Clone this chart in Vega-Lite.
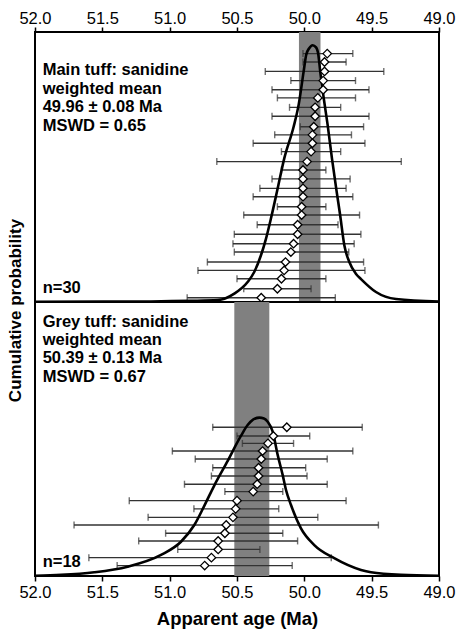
{
  "$schema": "https://vega.github.io/schema/vega-lite/v6.json",
  "background": "white",
  "padding": {"left": 5, "top": 9, "right": 0, "bottom": 0},
  "spacing": 0,
  "bounds": "flush",
  "config": {
    "font": "Liberation Sans",
    "view": {"stroke": "black", "strokeWidth": 2}
  },
  "datasets": {
    "mainPts": [
      {"age": 49.83, "lo": 50.01, "hi": 49.64, "p": 0.920},
      {"age": 49.85, "lo": 50.01, "hi": 49.69, "p": 0.889},
      {"age": 49.85, "lo": 50.29, "hi": 49.41, "p": 0.854},
      {"age": 49.86, "lo": 50.10, "hi": 49.62, "p": 0.820},
      {"age": 49.86, "lo": 50.24, "hi": 49.52, "p": 0.786},
      {"age": 49.90, "lo": 50.20, "hi": 49.62, "p": 0.756},
      {"age": 49.92, "lo": 50.11, "hi": 49.73, "p": 0.721},
      {"age": 49.92, "lo": 50.24, "hi": 49.52, "p": 0.688},
      {"age": 49.93, "lo": 50.03, "hi": 49.56, "p": 0.649},
      {"age": 49.94, "lo": 50.22, "hi": 49.65, "p": 0.619},
      {"age": 49.94, "lo": 50.38, "hi": 49.55, "p": 0.588},
      {"age": 49.95, "lo": 50.17, "hi": 49.73, "p": 0.557},
      {"age": 49.98, "lo": 50.65, "hi": 49.28, "p": 0.520},
      {"age": 50.01, "lo": 50.17, "hi": 49.84, "p": 0.489},
      {"age": 50.01, "lo": 50.24, "hi": 49.66, "p": 0.456},
      {"age": 50.01, "lo": 50.33, "hi": 49.69, "p": 0.421},
      {"age": 50.01, "lo": 50.38, "hi": 49.64, "p": 0.390},
      {"age": 50.02, "lo": 50.20, "hi": 49.84, "p": 0.353},
      {"age": 50.02, "lo": 50.45, "hi": 49.59, "p": 0.322},
      {"age": 50.05, "lo": 50.35, "hi": 49.75, "p": 0.286},
      {"age": 50.05, "lo": 50.52, "hi": 49.58, "p": 0.251},
      {"age": 50.08, "lo": 50.53, "hi": 49.63, "p": 0.216},
      {"age": 50.10, "lo": 50.52, "hi": 49.67, "p": 0.185},
      {"age": 50.14, "lo": 50.72, "hi": 49.56, "p": 0.148},
      {"age": 50.15, "lo": 50.79, "hi": 49.55, "p": 0.117},
      {"age": 50.17, "lo": 50.50, "hi": 49.84, "p": 0.086},
      {"age": 50.20, "lo": 50.45, "hi": 49.95, "p": 0.049},
      {"age": 50.32, "lo": 50.87, "hi": 49.77, "p": 0.016}
    ],
    "mainCurve": [
      {"age": 52.0, "p": 0.001},
      {"age": 51.139, "p": 0.002},
      {"age": 50.842, "p": 0.004},
      {"age": 50.643, "p": 0.007},
      {"age": 50.520, "p": 0.031},
      {"age": 50.421, "p": 0.074},
      {"age": 50.372, "p": 0.111},
      {"age": 50.322, "p": 0.173},
      {"age": 50.285, "p": 0.234},
      {"age": 50.248, "p": 0.309},
      {"age": 50.203, "p": 0.409},
      {"age": 50.149, "p": 0.532},
      {"age": 50.079, "p": 0.650},
      {"age": 50.042, "p": 0.731},
      {"age": 50.005, "p": 0.854},
      {"age": 49.986, "p": 0.916},
      {"age": 49.965, "p": 0.939},
      {"age": 49.938, "p": 0.951},
      {"age": 49.913, "p": 0.943},
      {"age": 49.896, "p": 0.916},
      {"age": 49.882, "p": 0.854},
      {"age": 49.854, "p": 0.748},
      {"age": 49.827, "p": 0.656},
      {"age": 49.795, "p": 0.532},
      {"age": 49.760, "p": 0.409},
      {"age": 49.735, "p": 0.325},
      {"age": 49.703, "p": 0.210},
      {"age": 49.666, "p": 0.148},
      {"age": 49.616, "p": 0.104},
      {"age": 49.579, "p": 0.085},
      {"age": 49.468, "p": 0.037},
      {"age": 49.319, "p": 0.011},
      {"age": 49.0, "p": 0.002}
    ],
    "mainBand": [{"lo": 50.04, "hi": 49.88}],
    "mainText": [
      {"age": 51.943, "p": 0.839, "label": "Main tuff: sanidine"},
      {"age": 51.943, "p": 0.770, "label": "weighted mean"},
      {"age": 51.943, "p": 0.702, "label": "49.96 ± 0.08 Ma"},
      {"age": 51.943, "p": 0.633, "label": "MSWD = 0.65"},
      {"age": 51.943, "p": 0.034, "label": "n=30"}
    ],
    "greyPts": [
      {"age": 50.13, "lo": 50.68, "hi": 49.57, "p": 0.543},
      {"age": 50.23, "lo": 50.50, "hi": 49.96, "p": 0.511},
      {"age": 50.27, "lo": 50.46, "hi": 50.08, "p": 0.484},
      {"age": 50.31, "lo": 50.98, "hi": 49.64, "p": 0.456},
      {"age": 50.32, "lo": 50.81, "hi": 49.83, "p": 0.427},
      {"age": 50.34, "lo": 50.68, "hi": 49.99, "p": 0.395},
      {"age": 50.34, "lo": 50.69, "hi": 49.98, "p": 0.365},
      {"age": 50.35, "lo": 50.89, "hi": 49.83, "p": 0.335},
      {"age": 50.38, "lo": 50.59, "hi": 50.16, "p": 0.308},
      {"age": 50.50, "lo": 51.30, "hi": 49.69, "p": 0.275},
      {"age": 50.51, "lo": 50.82, "hi": 50.19, "p": 0.245},
      {"age": 50.53, "lo": 51.16, "hi": 49.90, "p": 0.214},
      {"age": 50.58, "lo": 51.71, "hi": 49.45, "p": 0.186},
      {"age": 50.59, "lo": 51.03, "hi": 50.16, "p": 0.156},
      {"age": 50.64, "lo": 51.23, "hi": 50.05, "p": 0.128},
      {"age": 50.64, "lo": 50.94, "hi": 50.33, "p": 0.097},
      {"age": 50.69, "lo": 51.60, "hi": 49.80, "p": 0.067},
      {"age": 50.74, "lo": 51.39, "hi": 50.09, "p": 0.038}
    ],
    "greyCurve": [
      {"age": 52.0, "p": 0.001},
      {"age": 51.807, "p": 0.004},
      {"age": 51.560, "p": 0.0135},
      {"age": 51.312, "p": 0.034},
      {"age": 51.064, "p": 0.077},
      {"age": 50.916, "p": 0.125},
      {"age": 50.817, "p": 0.186},
      {"age": 50.743, "p": 0.256},
      {"age": 50.669, "p": 0.330},
      {"age": 50.569, "p": 0.420},
      {"age": 50.470, "p": 0.512},
      {"age": 50.421, "p": 0.551},
      {"age": 50.381, "p": 0.571},
      {"age": 50.334, "p": 0.578},
      {"age": 50.300, "p": 0.575},
      {"age": 50.272, "p": 0.563},
      {"age": 50.235, "p": 0.527},
      {"age": 50.198, "p": 0.442},
      {"age": 50.161, "p": 0.369},
      {"age": 50.136, "p": 0.314},
      {"age": 50.099, "p": 0.259},
      {"age": 50.025, "p": 0.174},
      {"age": 49.926, "p": 0.113},
      {"age": 49.778, "p": 0.065},
      {"age": 49.579, "p": 0.022},
      {"age": 49.505, "p": 0.0135},
      {"age": 49.282, "p": 0.004},
      {"age": 49.0, "p": 0.001}
    ],
    "greyBand": [{"lo": 50.52, "hi": 50.26}],
    "greyText": [
      {"age": 51.943, "p": 0.910, "label": "Grey tuff: sanidine"},
      {"age": 51.943, "p": 0.843, "label": "weighted mean"},
      {"age": 51.943, "p": 0.776, "label": "50.39 ± 0.13 Ma"},
      {"age": 51.943, "p": 0.709, "label": "MSWD = 0.67"},
      {"age": 51.943, "p": 0.034, "label": "n=18"}
    ]
  },
  "vconcat": [
    {
      "width": 404,
      "height": 270,
      "encoding": {
        "x": {"field": "age", "type": "quantitative", "scale": {"domain": [52, 49], "nice": false, "zero": false},
          "axis": {"orient": "top", "title": null, "grid": false, "domain": false, "values": [52, 51.5, 51, 50.5, 50, 49.5, 49], "format": ".1f", "labelFontSize": 16.5, "labelColor": "black", "tickColor": "black", "labelFlush": false, "labelOverlap": false, "tickSize": 5, "tickWidth": 1.5, "labelPadding": 1}},
        "y": {"field": "p", "type": "quantitative", "scale": {"domain": [0, 1], "nice": false, "zero": false},
          "axis": {"title": "Cumulative probability", "grid": false, "domain": false, "labels": false, "ticks": false, "titleFontSize": 17, "titleFontWeight": "bold", "titleColor": "black", "titleY": 278, "titleX": -11}}
      },
      "layer": [
        {
          "data": {"name": "mainBand"},
          "mark": {"type": "rect", "color": "#808080"},
          "encoding": {
            "x": {"field": "lo", "type": "quantitative"},
            "x2": {"field": "hi"},
            "y": null
          }
        },
        {
          "data": {"name": "mainPts"},
          "mark": {"type": "rule", "color": "#333333", "strokeWidth": 1.4},
          "encoding": {
            "x": {"field": "lo", "type": "quantitative"},
            "x2": {"field": "hi"}
          }
        },
        {
          "data": {"name": "mainPts"},
          "mark": {"type": "tick", "orient": "vertical", "color": "#333333", "size": 7, "thickness": 1.4},
          "encoding": {"x": {"field": "lo", "type": "quantitative"}}
        },
        {
          "data": {"name": "mainPts"},
          "mark": {"type": "tick", "orient": "vertical", "color": "#333333", "size": 7, "thickness": 1.4},
          "encoding": {"x": {"field": "hi", "type": "quantitative"}}
        },
        {
          "data": {"name": "mainCurve"},
          "mark": {"type": "line", "color": "black", "strokeWidth": 2.6, "interpolate": "monotone"},
          "encoding": {}
        },
        {
          "data": {"name": "mainPts"},
          "mark": {"type": "point", "shape": "diamond", "filled": true, "fill": "white", "stroke": "black", "strokeWidth": 1.3, "size": 72, "opacity": 1},
          "encoding": {}
        },
        {
          "data": {"name": "mainText"},
          "mark": {"type": "text", "align": "left", "baseline": "alphabetic", "fontSize": 16.5, "fontWeight": "bold", "color": "black"},
          "encoding": {"text": {"field": "label"}}
        }
      ]
    },
    {
      "width": 404,
      "height": 274,
      "encoding": {
        "x": {"field": "age", "type": "quantitative", "scale": {"domain": [52, 49], "nice": false, "zero": false},
          "axis": {"orient": "bottom", "title": "Apparent age (Ma)", "titleFontSize": 18.5, "titleFontWeight": "bold", "titleColor": "black", "titlePadding": 9, "grid": false, "domain": false, "values": [52, 51.5, 51, 50.5, 50, 49.5, 49], "format": ".1f", "labelFontSize": 16.5, "labelColor": "black", "tickColor": "black", "labelFlush": false, "labelOverlap": false, "tickSize": 5, "tickWidth": 1.5, "labelPadding": 3}},
        "y": {"field": "p", "type": "quantitative", "scale": {"domain": [0, 1], "nice": false, "zero": false}, "axis": null}
      },
      "layer": [
        {
          "data": {"name": "greyBand"},
          "mark": {"type": "rect", "color": "#808080"},
          "encoding": {
            "x": {"field": "lo", "type": "quantitative"},
            "x2": {"field": "hi"},
            "y": null
          }
        },
        {
          "data": {"name": "greyPts"},
          "mark": {"type": "rule", "color": "#333333", "strokeWidth": 1.4},
          "encoding": {
            "x": {"field": "lo", "type": "quantitative"},
            "x2": {"field": "hi"}
          }
        },
        {
          "data": {"name": "greyPts"},
          "mark": {"type": "tick", "orient": "vertical", "color": "#333333", "size": 7, "thickness": 1.4},
          "encoding": {"x": {"field": "lo", "type": "quantitative"}}
        },
        {
          "data": {"name": "greyPts"},
          "mark": {"type": "tick", "orient": "vertical", "color": "#333333", "size": 7, "thickness": 1.4},
          "encoding": {"x": {"field": "hi", "type": "quantitative"}}
        },
        {
          "data": {"name": "greyCurve"},
          "mark": {"type": "line", "color": "black", "strokeWidth": 2.6, "interpolate": "monotone"},
          "encoding": {}
        },
        {
          "data": {"name": "greyPts"},
          "mark": {"type": "point", "shape": "diamond", "filled": true, "fill": "white", "stroke": "black", "strokeWidth": 1.3, "size": 72, "opacity": 1},
          "encoding": {}
        },
        {
          "data": {"name": "greyText"},
          "mark": {"type": "text", "align": "left", "baseline": "alphabetic", "fontSize": 16.5, "fontWeight": "bold", "color": "black"},
          "encoding": {"text": {"field": "label"}}
        }
      ]
    }
  ]
}
